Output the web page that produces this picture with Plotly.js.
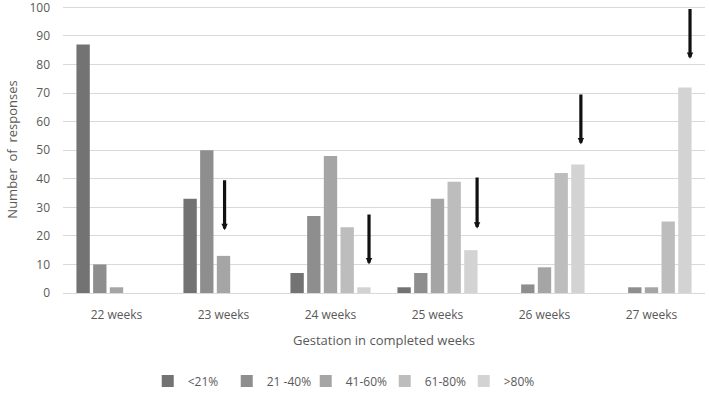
<!DOCTYPE html>
<html>
<head>
<meta charset="utf-8">
<script src="https://cdn.plot.ly/plotly-3.0.1.min.js"></script>
<style>html,body{margin:0;padding:0;background:#fff;}#chart{width:709px;height:408px;}</style>
</head>
<body>
<div id="chart"></div>
<script>
const categories = ["22 weeks", "23 weeks", "24 weeks", "25 weeks", "26 weeks", "27 weeks"];
const seriesNames = ["<21%", "21 -40%", "41-60%", "61-80%", ">80%"];
const lt21 = [87, 33, 7, 2, 0, 0];
const p21_40 = [10, 50, 27, 7, 3, 2];
const p41_60 = [2, 13, 48, 33, 9, 2];
const p61_80 = [0, 0, 23, 39, 42, 25];
const gt80 = [0, 0, 2, 15, 45, 72];
const yTicks = [0, 10, 20, 30, 40, 50, 60, 70, 80, 90, 100];
const seriesColors = ["#737373", "#8e8e8e", "#a5a5a5", "#bdbdbd", "#d3d3d3"];
// arrows: position (category index), tail value, tip value
const arrowX = [1.01, 2.36, 3.37, 4.34, 5.36];
const arrowFrom = [40, 28, 41, 70, 100];
const arrowTo = [22, 10, 22.5, 52, 82];

const values = [lt21, p21_40, p41_60, p61_80, gt80];
const traces = values.map((v, i) => ({
  type: "bar",
  name: seriesNames[i],
  x: categories,
  y: v,
  marker: {color: seriesColors[i], line: {width: 0}},
  hoverinfo: "skip"
}));

const annotations = arrowX.map((x, i) => ({
  x: x, y: arrowTo[i], ax: x, ay: arrowFrom[i],
  xref: "x", yref: "y", axref: "x", ayref: "y",
  text: "", showarrow: true, arrowhead: 2, arrowsize: 0.4, arrowwidth: 3.2, arrowcolor: "#111111"
}));

const font = "'Open Sans', 'Liberation Sans', sans-serif";
const layout = {
  width: 709, height: 408,
  margin: {l: 63, r: 4, t: 6, b: 115},
  paper_bgcolor: "#ffffff", plot_bgcolor: "#ffffff",
  barmode: "group", bargap: 0.22, bargroupgap: 0.2,
  font: {family: font, color: "#595959", size: 12},
  showlegend: true,
  legend: {orientation: "h", x: 0.132, xanchor: "left", y: -0.256, yanchor: "top",
    font: {size: 12, color: "#595959"}, itemwidth: 30, traceorder: "normal",
    entrywidth: 34, entrywidthmode: "pixels"},
  xaxis: {
    type: "category",
    showgrid: false, showline: true, linecolor: "#d9d9d9", linewidth: 1,
    ticks: "", ticklabelstandoff: 11, tickfont: {size: 12, color: "#595959"},
    title: {text: "Gestation in completed weeks", font: {size: 13, color: "#595959"}, standoff: 13},
    fixedrange: true
  },
  yaxis: {
    range: [0, 100.5], tickmode: "array", tickvals: yTicks, ticktext: yTicks.map(String),
    ticklabeloverflow: "allow",
    showgrid: true, gridcolor: "#d9d9d9", gridwidth: 1,
    zeroline: false, showline: false, ticks: "", ticklabelstandoff: 12,
    tickfont: {size: 12, color: "#595959"},
    title: {text: "Number  of  responses", font: {size: 13, color: "#595959"}, standoff: 8},
    fixedrange: true
  },
  annotations: annotations
};

Plotly.newPlot("chart", traces, layout, {staticPlot: true, displayModeBar: false});
</script>
</body>
</html>
